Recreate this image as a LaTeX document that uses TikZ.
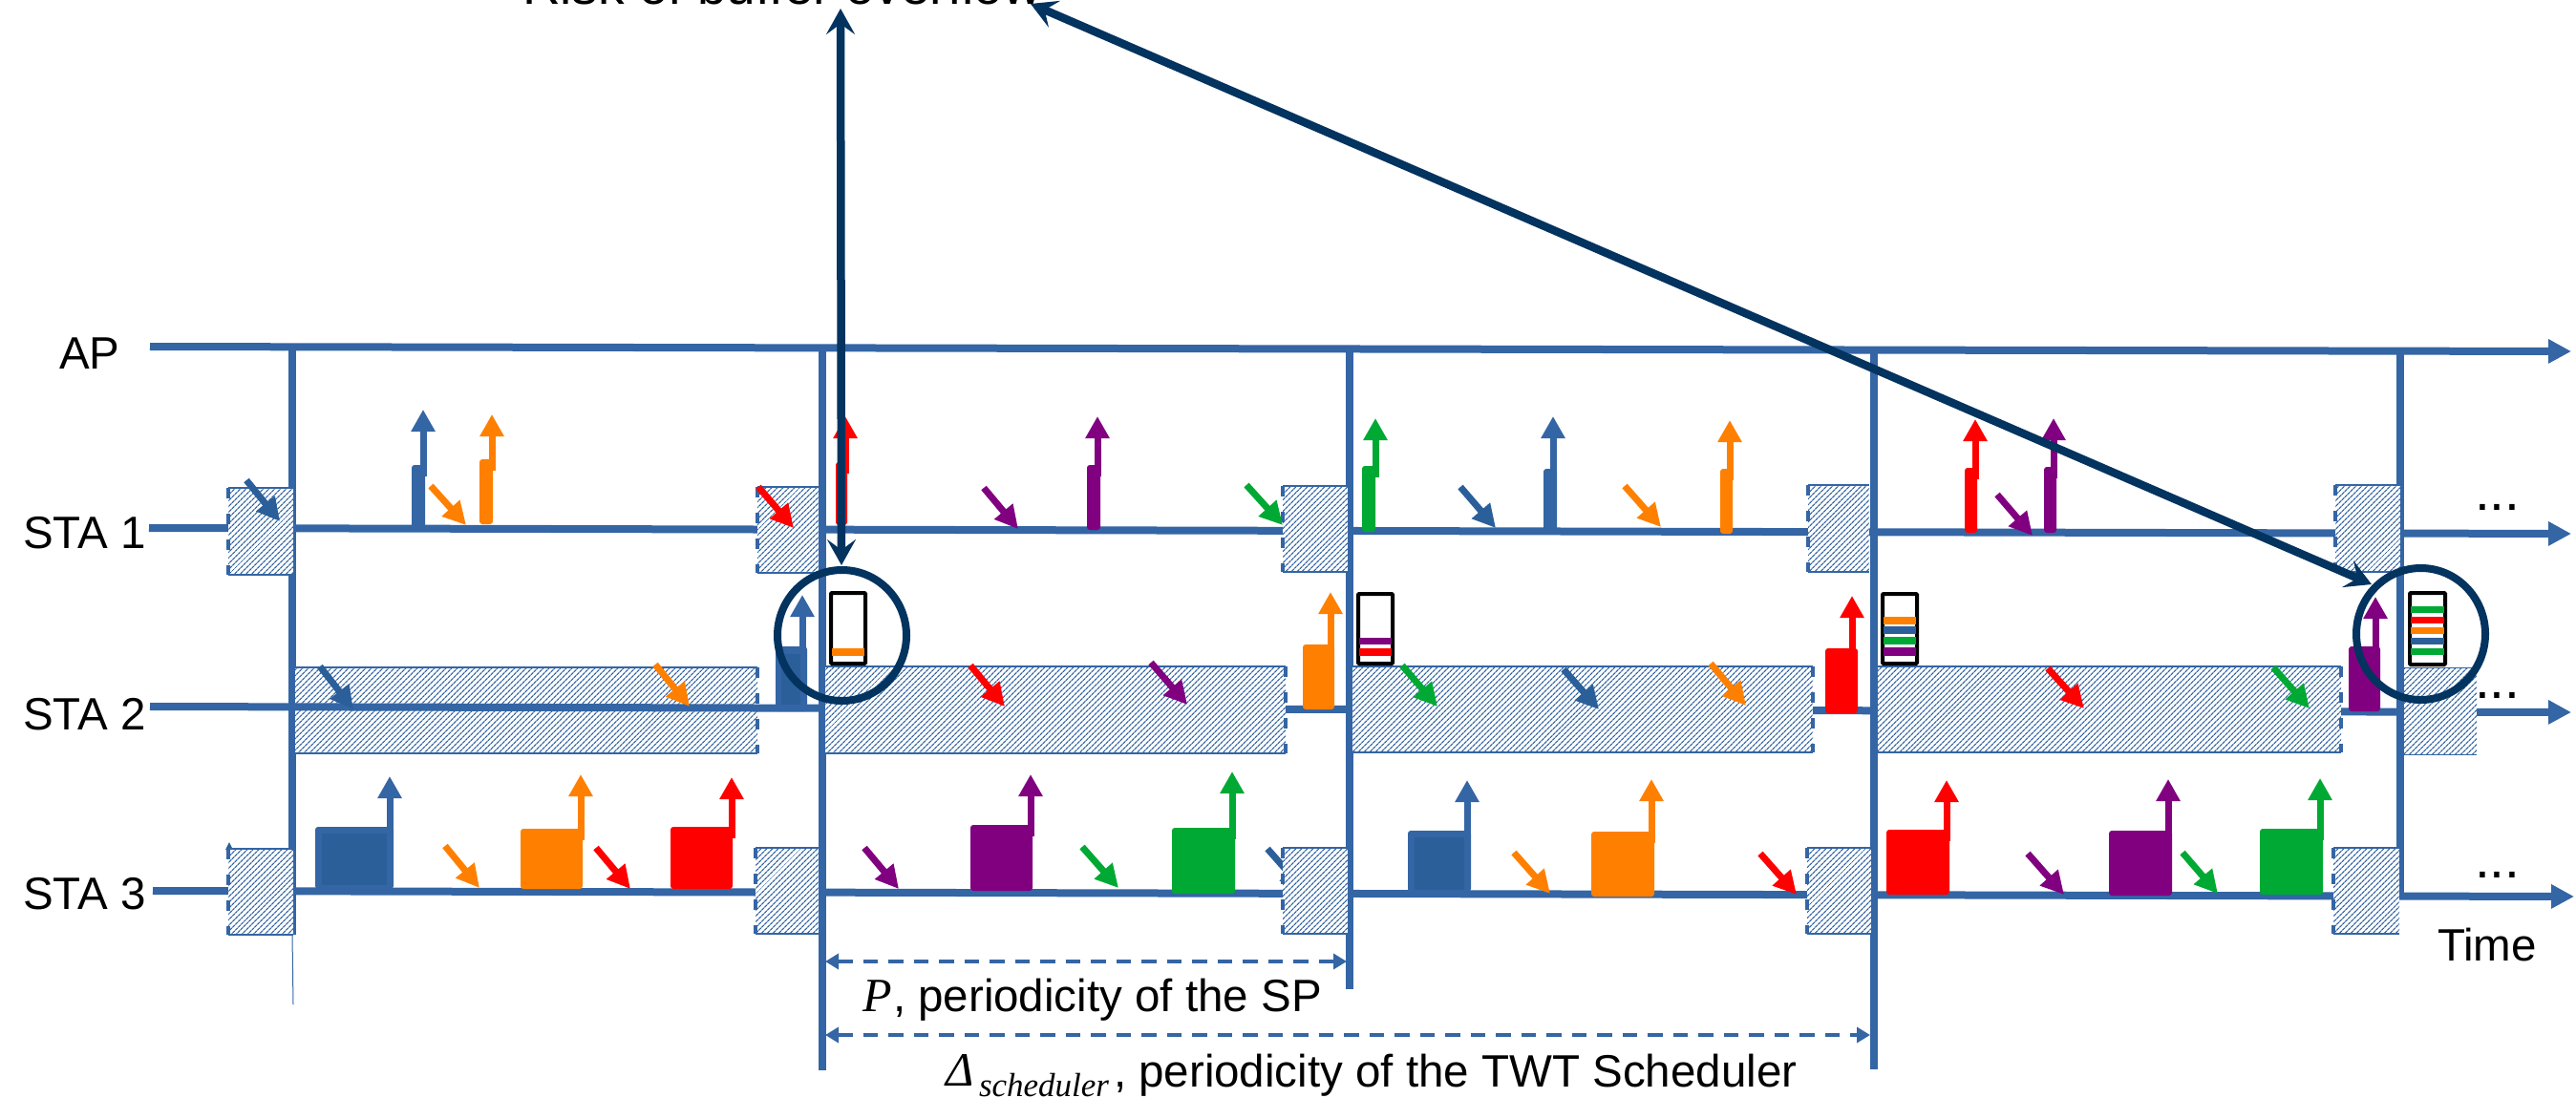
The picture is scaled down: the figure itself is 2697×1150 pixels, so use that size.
\documentclass[tikz,border=0pt]{standalone}
\usepackage{fontspec}
\setmainfont{Liberation Sans}
\newfontfamily\serifit[ItalicFont=Liberation Serif Italic]{Liberation Serif}
\usetikzlibrary{arrows.meta,patterns.meta}
\definecolor{bl}{HTML}{3465A4}
\definecolor{dkb}{HTML}{2B5F9A}
\definecolor{nv}{HTML}{03335F}
\definecolor{or}{HTML}{FF8000}
\definecolor{rd}{HTML}{FF0000}
\definecolor{pu}{HTML}{800080}
\definecolor{gn}{HTML}{00A933}
\tikzset{
  tline/.style={bl,line width=8pt,-{Triangle[length=24pt,width=24pt]}},
  vline/.style={bl,line width=8pt},
  hatched/.style={pattern={Lines[angle=45,distance=4pt,line width=1.3pt]},pattern color=bl},
  hedge/.style={bl,line width=1.6pt},
  dedge/.style={bl,line width=3.5pt,dash pattern=on 11pt off 16pt},
  dimarrow/.style={bl,line width=4.5pt,dash pattern=on 15.5pt off 11pt,{Triangle[length=14pt,width=16pt]}-{Triangle[length=14pt,width=16pt]}},
  navyarrow/.style={nv,line width=8.5pt,{Stealth[length=27pt,width=30pt,inset=11pt]}-{Stealth[length=27pt,width=30pt,inset=11pt]}},
  txt/.style={inner sep=0pt,outer sep=0pt,anchor=base west,font=\fontsize{47.5}{50}\selectfont},
  dots/.style={inner sep=0pt,outer sep=0pt,anchor=base west,font=\fontsize{57}{60}\selectfont},
  bufframe/.style={draw=black,fill=white,line width=4pt,rounded corners=1pt},
}
\newcommand{\dnarr}[5]{\draw[#1,line width=7pt,-{Triangle[length=24pt,width=24pt]}] (#2,#3) -- (#4,#5);}
\newcommand{\upbar}[7]{%
  \fill[#1,rounded corners=3pt] (#2,#4) rectangle (#3,#5);
  \draw[#1,line width=7pt,-{Triangle[length=23pt,width=24pt]}] (#6,{#4+12}) -- (#6,#7);}
\newcommand{\innerb}[4]{\fill[dkb] (#1,#2) rectangle (#3,#4);}
\newcommand{\boxL}[4]{%
  \fill[white] (#1,#2) rectangle (#3,#4);
  \fill[hatched] (#1,#2) rectangle (#3,#4);
  \draw[hedge] (#1,#2) -- (#3,#2) (#1,#4) -- (#3,#4);
  \draw[dedge] (#1,#2) -- (#1,#4);}
\newcommand{\boxR}[4]{%
  \fill[white] (#1,#2) rectangle (#3,#4);
  \fill[hatched] (#1,#2) rectangle (#3,#4);
  \draw[hedge] (#1,#2) -- (#3,#2) (#1,#4) -- (#3,#4);
  \draw[dedge] (#3,#2) -- (#3,#4);}
\newcommand{\boxN}[4]{%
  \fill[white] (#1,#2) rectangle (#3,#4);
  \fill[hatched] (#1,#2) rectangle (#3,#4);
  \draw[hedge,line width=.8pt] (#1,#2) -- (#3,#2) (#1,#4) -- (#3,#4);}
\newcommand{\strip}[5]{\fill[#1] (#2,#3) rectangle (#4,#5);}
\begin{document}
\begin{tikzpicture}[x=1pt,y=-1pt]
\useasboundingbox (0,0) rectangle (2697,1150);
\clip (0,0) rectangle (2697,1150);

% vertical lines
\coordinate (v1t) at (306,363); \coordinate (v1b) at (306,979);
\coordinate (v1e) at (307,1052);
\coordinate (v2t) at (861,364); \coordinate (v2b) at (861,1121);
\coordinate (v3t) at (1413,365); \coordinate (v3b) at (1413,1036);
\coordinate (v4t) at (1962,366); \coordinate (v4b) at (1962,1120);
\coordinate (v5t) at (2513,364); \coordinate (v5b) at (2513,939);
\draw[vline] (v1t) -- (v1b);
\draw[bl,line width=1pt] (v1b) -- (v1e);
\draw[vline] (v2t) -- (v2b);
\draw[vline] (v3t) -- (v3b);
\draw[vline] (v4t) -- (v4b);
\draw[vline] (v5t) -- (v5b);

% first STA 2 window lies below its line
\boxR{309}{699}{793}{789}

% time axes
\coordinate (apS) at (157,363); \coordinate (apE) at (2692,368);
\coordinate (s1S) at (156,553); \coordinate (s1E) at (2692,559);
\coordinate (s2S) at (157,740); \coordinate (s2E) at (2692,746);
\coordinate (s3S) at (160,933); \coordinate (s3E) at (2695,939);
\draw[tline] (apS) -- (apE);
\draw[tline] (s1S) -- (s1E);
\draw[tline] (s2S) -- (s2E);
\draw[tline] (s3S) -- (s3E);

% arrows hidden by windows
\dnarr{dkb}{1327}{889}{1365}{932}
\fill[dkb] (236,890) -- (240,882) -- (244,890) -- cycle;

% STA 1 windows
\boxL{239}{511}{307}{602}
\boxL{793}{510}{857}{600}
\boxL{1343}{509}{1411}{599}
\boxL{1893}{508}{1957}{599}
\boxL{2445}{508}{2513}{599}
% STA 2 windows
\boxR{864}{698}{1346}{789}
\boxR{1416}{698}{1898}{788}
\boxR{1966}{698}{2451}{788}
\boxN{2517}{699}{2593}{790}
% STA 3 windows
\boxL{239}{889}{307}{979}
\boxL{791}{888}{857}{978}
\boxL{1343}{888}{1411}{978}
\boxL{1892}{888}{1959}{978}
\boxL{2443}{888}{2512}{978}

% STA 1 data
\upbar{bl}{431}{445}{487}{555}{443}{429}
\upbar{or}{502}{516}{481}{549}{515}{434}
\upbar{rd}{875}{887}{484}{550}{885}{436}
\upbar{pu}{1138}{1152}{487}{555}{1149}{436}
\upbar{gn}{1426}{1440}{488}{557}{1440}{438}
\upbar{bl}{1616}{1630}{491}{557}{1626}{436}
\upbar{or}{1801}{1814}{491}{559}{1811}{440}
\upbar{rd}{2057}{2070}{490}{558}{2068}{439}
\upbar{pu}{2140}{2153}{489}{558}{2150}{438}
% STA 2 data
\upbar{bl}{812}{845}{677}{745}{840}{623}
\innerb{818}{685}{838}{738}
\upbar{or}{1364}{1397}{675}{743}{1393}{620}
\upbar{rd}{1911}{1945}{679}{747}{1939}{624}
\upbar{pu}{2459}{2492}{677}{745}{2487}{625}
% STA 3 data
\upbar{bl}{330}{412}{866}{931}{408}{813}
\innerb{337}{873}{405}{927}
\upbar{or}{545}{610}{868}{931}{608}{811}
\upbar{rd}{702}{767}{866}{931}{766}{814}
\upbar{pu}{1016}{1081}{864}{933}{1079}{811}
\upbar{gn}{1227}{1293}{867}{936}{1290}{808}
\upbar{bl}{1474}{1540}{870}{934}{1536}{817}
\innerb{1481}{877}{1533}{932}
\upbar{or}{1666}{1732}{871}{939}{1729}{816}
\upbar{rd}{1975}{2041}{869}{937}{2038}{817}
\upbar{pu}{2208}{2274}{870}{938}{2270}{816}
\upbar{gn}{2366}{2432}{868}{937}{2429}{815}

% arrivals STA 1
\dnarr{dkb}{258}{503}{293}{546}
\dnarr{or}{451}{509}{488}{550}
\dnarr{rd}{794}{510}{831}{553}
\dnarr{pu}{1030}{511}{1066}{554}
\dnarr{gn}{1305}{508}{1343}{550}
\dnarr{dkb}{1529}{510}{1566}{553}
\dnarr{or}{1701}{509}{1739}{552}
\dnarr{pu}{2091}{518}{2128}{561}
% arrivals STA 2
\dnarr{dkb}{335}{698}{370}{743}
\dnarr{or}{686}{696}{722}{740}
\dnarr{rd}{1016}{697}{1052}{740}
\dnarr{pu}{1205}{694}{1243}{738}
\dnarr{gn}{1468}{697}{1505}{740}
\dnarr{dkb}{1637}{701}{1674}{743}
\dnarr{or}{1791}{695}{1828}{739}
\dnarr{rd}{2144}{700}{2182}{742}
\dnarr{gn}{2380}{699}{2418}{742}
% arrivals STA 3
\dnarr{or}{466}{886}{502}{930}
\dnarr{rd}{624}{888}{660}{931}
\dnarr{pu}{905}{888}{941}{931}
\dnarr{gn}{1133}{887}{1171}{930}
\dnarr{or}{1585}{893}{1623}{936}
\dnarr{rd}{1843}{894}{1881}{937}
\dnarr{pu}{2123}{894}{2161}{937}
\dnarr{gn}{2285}{893}{2322}{936}

% buffers
\draw[bufframe] (870,621) rectangle (906,695);
\strip{or}{871}{679}{905}{687}
\draw[bufframe] (1422,622) rectangle (1458,695);
\strip{pu}{1423}{668}{1457}{675}
\strip{rd}{1423}{679}{1457}{687}
\draw[bufframe] (1971,622) rectangle (2007,695);
\strip{or}{1972}{646}{2006}{654}
\strip{dkb}{1972}{656}{2006}{664}
\strip{gn}{1972}{667}{2006}{675}
\strip{pu}{1972}{678}{2006}{687}
\draw[bufframe] (2523,621) rectangle (2560,696);
\strip{gn}{2524}{635}{2559}{642}
\strip{rd}{2524}{646}{2559}{653}
\strip{or}{2524}{657}{2559}{664}
\strip{dkb}{2524}{668}{2559}{675}
\strip{gn}{2524}{679}{2559}{686}

% dimension arrows
\coordinate (pL) at (864,1007); \coordinate (pR) at (1410,1007);
\coordinate (dL) at (864,1084); \coordinate (dR) at (1958,1084);
\draw[dimarrow] (pL) -- (pR);
\draw[dimarrow] (dL) -- (dR);

% overflow rings and arrows
\draw[nv,line width=8pt] (881.5,665.5) ellipse [x radius=67.5pt,y radius=68.5pt];
\draw[nv,line width=8pt] (2534.5,664) ellipse [x radius=67.5pt,y radius=69pt];
\coordinate (a1) at (880,9); \coordinate (a2) at (881,592);
\coordinate (b1) at (1079,4); \coordinate (b2) at (2483,612);
\draw[navyarrow] (a1) -- (a2);
\draw[navyarrow] (b1) -- (b2);

% labels
\node[txt] (lap) at (62,386) {AP};
\node[txt] (l1) at (24,574) {STA 1};
\node[txt] (l2) at (24,764) {STA 2};
\node[txt] (l3) at (24,952) {STA 3};
\node[txt] (ltime) at (2552,1006) {Time};
\node[dots] (d1) at (2591,534) {...};
\node[dots] (d2) at (2591,731) {...};
\node[dots] (d3) at (2591,919) {...};
\node[txt,font=\fontsize{55}{58}\selectfont] (risk) at (547,5) {Risk of buffer overflow};
\node[txt,font=\fontsize{50}{52}\selectfont\serifit\itshape] (pp) at (903,1059) {P};
\node[txt] (ptxt) at (935,1059) {, periodicity of the SP};
\node[txt,font=\fontsize{50}{52}\selectfont\serifit\itshape] (dd) at (990,1137) {Δ};
\node[txt,font=\fontsize{35}{37}\selectfont\serifit\itshape] (ds) at (1025,1148) {scheduler};
\node[txt] (dtxt) at (1166,1138) {, periodicity of the TWT Scheduler};
\end{tikzpicture}
\end{document}
